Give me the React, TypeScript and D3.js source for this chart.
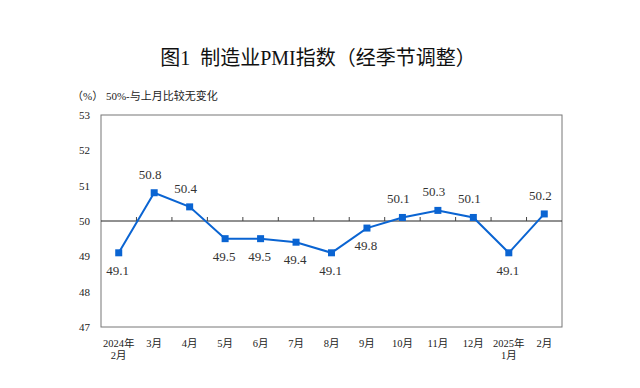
import React, { useEffect, useRef } from 'react'
import * as d3 from 'd3'

const MONTHS = ['2024年\n2月', '3月', '4月', '5月', '6月', '7月', '8月', '9月', '10月', '11月', '12月', '2025年\n1月', '2月']
const PMI = [49.1, 50.8, 50.4, 49.5, 49.5, 49.4, 49.1, 49.8, 50.1, 50.3, 50.1, 49.1, 50.2]
// label placement: true = above point
const LABEL_ABOVE = [false, true, true, false, false, false, false, false, true, true, true, false, true]
const Y_TICKS = [47, 48, 49, 50, 51, 52, 53]

const LINE_COLOR = '#0a64d2'
const FONT = '"Liberation Serif", "Noto Sans CJK SC", serif'

export default function App() {
  const svgRef = useRef<SVGSVGElement | null>(null)

  useEffect(() => {
    if (!svgRef.current) return
    const W = 640
    const H = 388
    const margin = { top: 115, right: 78, bottom: 61, left: 101 }
    const innerW = W - margin.left - margin.right
    const innerH = H - margin.top - margin.bottom

    const svg = d3.select(svgRef.current)
    svg.selectAll('*').remove()
    svg.attr('width', W).attr('height', H)

    svg.append('rect').attr('width', W).attr('height', H).attr('fill', '#fff')

    // title + note
    svg.append('text')
      .attr('x', 318).attr('y', 65)
      .attr('text-anchor', 'middle').attr('fill', '#111')
      .attr('font-size', 20).attr('font-family', FONT)
      .text('图1\u00a0\u00a0制造业PMI指数（经季节调整）')
    svg.append('text')
      .attr('x', 72).attr('y', 100)
      .attr('fill', '#222').attr('font-size', 11).attr('font-family', FONT)
      .text('（%）\u00a050%-与上月比较无变化')

    const x = d3.scaleBand<number>().domain(d3.range(MONTHS.length)).range([0, innerW])
    const y = d3.scaleLinear().domain([47, 53]).range([innerH, 0])

    const g = svg.append('g').attr('transform', `translate(${margin.left},${margin.top})`)

    // frame
    g.append('rect')
      .attr('width', innerW).attr('height', innerH)
      .attr('fill', 'none').attr('stroke', '#777').attr('stroke-width', 1)

    // y ticks
    Y_TICKS.forEach(t => {
      g.append('text')
        .attr('x', -11).attr('y', y(t) + 4)
        .attr('text-anchor', 'end').attr('fill', '#222')
        .attr('font-size', 11).attr('font-family', FONT)
        .text(t)
    })

    // 50% reference axis with ticks between categories
    const y50 = y(50)
    g.append('line')
      .attr('x1', 0).attr('x2', innerW).attr('y1', y50).attr('y2', y50)
      .attr('stroke', '#222').attr('stroke-width', 1)
    d3.range(1, MONTHS.length).forEach(i => {
      const tx = x(i)!
      g.append('line')
        .attr('x1', tx).attr('x2', tx).attr('y1', y50).attr('y2', y50 - 4)
        .attr('stroke', '#444').attr('stroke-width', 1)
    })

    // x labels
    MONTHS.forEach((m, i) => {
      const lines = m.split('\n')
      const t = g.append('text')
        .attr('text-anchor', 'middle').attr('fill', '#222')
        .attr('font-size', 10.5).attr('font-family', FONT)
      lines.forEach((ln, j) => {
        t.append('tspan')
          .attr('x', x(i)! + x.bandwidth() / 2)
          .attr('y', innerH + 20 + j * 12)
          .text(ln)
      })
    })

    const cx = (i: number) => x(i)! + x.bandwidth() / 2

    // line
    const line = d3.line<number>().x((_, i) => cx(i)).y(d => y(d))
    g.append('path')
      .datum(PMI)
      .attr('d', line)
      .attr('fill', 'none').attr('stroke', LINE_COLOR).attr('stroke-width', 2)

    // markers
    PMI.forEach((v, i) => {
      g.append('rect')
        .attr('x', cx(i) - 3.5).attr('y', y(v) - 3.5)
        .attr('width', 7).attr('height', 7)
        .attr('fill', LINE_COLOR)
    })

    // value labels
    PMI.forEach((v, i) => {
      const above = LABEL_ABOVE[i]
      g.append('text')
        .attr('x', cx(i) - (above ? 4 : 1))
        .attr('y', above ? y(v) - 14 : y(v) + 22)
        .attr('text-anchor', 'middle').attr('fill', '#333')
        .attr('font-size', 13).attr('font-family', FONT)
        .text(v.toFixed(1))
    })
  }, [])

  return (
    <div style={{ width: 640, height: 388, margin: -8 }}>
      <svg ref={svgRef} style={{ display: 'block' }} />
    </div>
  )
}
